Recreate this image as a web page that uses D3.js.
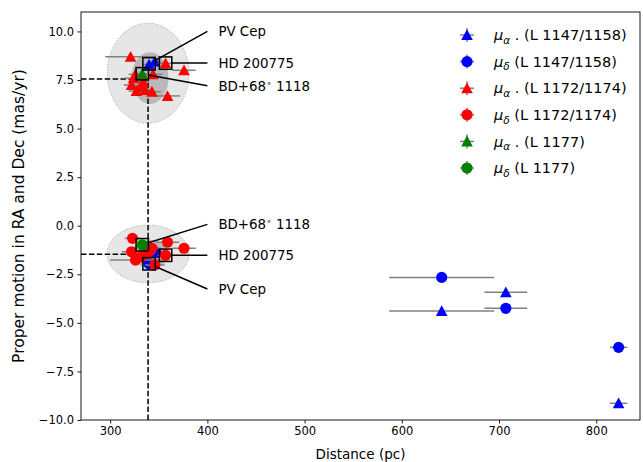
<!DOCTYPE html>
<html><head><meta charset="utf-8">
<script src="https://cdn.jsdelivr.net/npm/d3@7"></script>
<style>
body{margin:0;background:#fff;}
text{font-family:"DejaVu Sans",sans-serif;}
</style></head>
<body><svg id="c" width="643" height="462"></svg>
<script>
// ---- data ----
const xTicks = [300, 400, 500, 600, 700, 800];
const yTicks = [-10, -7.5, -5, -2.5, 0, 2.5, 5, 7.5, 10];

// L 1147/1158 (blue)
const blueDist   = [340, 346, 641, 707, 823];
const blueDistErr= [6, 6, 54, 22, 9];
const bluePmra   = [8.30, 8.45, -4.39, -3.43, -9.14];
const bluePmdecDist = [340, 347, 641, 707, 823];
const bluePmdec  = [-1.96, -1.39, -2.66, -4.25, -6.26];

// L 1172/1174 (red)
const redPmraDist = [321, 357, 376, 359, 324, 322, 331, 336, 343, 327, 334, 344, 326];
const redPmraErr  = [26, 8, 12, 13, 10, 8, 6, 7, 9, 8, 6, 10, 7];
const redPmra     = [8.70, 8.36, 8.00, 6.68, 7.59, 7.24, 7.15, 6.98, 6.90, 6.93, 7.41, 7.79, 7.79];
const redPmdecDist = [323, 359, 376, 357, 322, 326, 332, 343, 346, 339];
const redPmdecErr  = [8, 12, 12, 8, 10, 26, 8, 9, 10, 7];
const redPmdec     = [-0.65, -0.85, -1.16, -1.52, -1.34, -1.77, -1.60, -1.16, -2.02, -1.42];

// L 1177 (green)
const greenDist = [333];
const greenDistErr = [5];
const greenPmra = [7.82];
const greenPmdec = [-0.98];

// cluster mean (dashed lines)
const meanDist = 339;
const meanPmra = 7.55;
const meanPmdec = -1.47;

// ellipses: [cx, cy, rx, ry] in data units
const ellOuter = [[339, 7.85, 42, 2.57], [339, -1.45, 42, 1.48]];
const ellInner = [[341, 7.6, 19, 1.33], [341, -1.45, 19, 0.72]];

// highlighted stars and annotations
const starNames = ["PV Cep", "HD 200775", "BD+68$ 1118"];
const starDist  = [340, 357, 333];
const starPmra  = [8.33, 8.37, 7.82];
const starPmdec = [-1.96, -1.52, -0.98];
const annPmraText  = [10.0, 8.37, 7.2];
const annPmdecText = [-3.26, -1.52, 0.07];
const annTextDist = 400;

const legendLabels = ["(L 1147/1158)", "(L 1147/1158)", "(L 1172/1174)", "(L 1172/1174)", "(L 1177)", "(L 1177)"];
const legendSub = ["α", "δ", "α", "δ", "α", "δ"];
const legendColors = ["#0000ff", "#0000ff", "#ff0000", "#ff0000", "#008000", "#008000"];
const legendShapes = ["tri", "circ", "tri", "circ", "tri", "circ"];

// ---- drawing ----
const svg = d3.select("#c");
const L = 81, R = 640, T = 12, B = 420;
const x = d3.scaleLinear().domain([270, 845]).range([L, R]);
const y = d3.scaleLinear().domain([-10, 11]).range([B, T]);

const g = svg.append("g");
g.append("defs").append("clipPath").attr("id","clip").append("rect")
  .attr("x", L).attr("y", T).attr("width", R-L).attr("height", B-T);
const plot = g.append("g").attr("clip-path","url(#clip)");

// ellipses
plot.selectAll(".eo").data(ellOuter).enter().append("ellipse")
  .attr("cx", d=>x(d[0])).attr("cy", d=>y(d[1]))
  .attr("rx", d=>x(d[0]+d[2])-x(d[0])).attr("ry", d=>y(d[1]-d[3])-y(d[1]))
  .attr("fill","#e6e6e6").attr("stroke","#9a9a9a").attr("stroke-width",1)
  .attr("stroke-dasharray","1,1.6");
plot.selectAll(".ei").data(ellInner).enter().append("ellipse")
  .attr("cx", d=>x(d[0])).attr("cy", d=>y(d[1]))
  .attr("rx", d=>x(d[0]+d[2])-x(d[0])).attr("ry", d=>y(d[1]-d[3])-y(d[1]))
  .attr("fill","#b0b0b0").attr("fill-opacity",0.85);

// dashed mean lines
const dash = "5.5,2.4";
plot.append("line").attr("x1",x(270)).attr("x2",x(meanDist)).attr("y1",y(meanPmra)).attr("y2",y(meanPmra))
  .attr("stroke","#000").attr("stroke-width",1.5).attr("stroke-dasharray",dash);
plot.append("line").attr("x1",x(270)).attr("x2",x(meanDist)).attr("y1",y(meanPmdec)).attr("y2",y(meanPmdec))
  .attr("stroke","#000").attr("stroke-width",1.5).attr("stroke-dasharray",dash);
plot.append("line").attr("x1",x(meanDist)).attr("x2",x(meanDist)).attr("y1",y(-10)).attr("y2",y(meanPmra))
  .attr("stroke","#000").attr("stroke-width",1.5).attr("stroke-dasharray",dash);

const triPath = "M0,-5.8L5.8,5L-5.8,5Z";
function series(dist, vals, errs, color, shape){
  const pts = dist.map((d,i)=>({d, v: vals[i], e: errs[i]}));
  plot.selectAll(null).data(pts).enter().append("line")
    .attr("x1", p=>x(p.d-p.e)).attr("x2", p=>x(p.d+p.e))
    .attr("y1", p=>y(p.v)).attr("y2", p=>y(p.v))
    .attr("stroke","#808080").attr("stroke-width",1.5);
  if (shape === "tri") {
    plot.selectAll(null).data(pts).enter().append("path")
      .attr("d", triPath).attr("transform", p=>`translate(${x(p.d)},${y(p.v)})`)
      .attr("fill", color);
  } else {
    plot.selectAll(null).data(pts).enter().append("circle")
      .attr("cx", p=>x(p.d)).attr("cy", p=>y(p.v)).attr("r", 5.6)
      .attr("fill", color);
  }
}
series(blueDist, bluePmra, blueDistErr, "#0000ff", "tri");
series(bluePmdecDist, bluePmdec, blueDistErr, "#0000ff", "circ");
series(redPmraDist, redPmra, redPmraErr, "#ff0000", "tri");
series(redPmdecDist, redPmdec, redPmdecErr, "#ff0000", "circ");
series(greenDist, greenPmra, greenDistErr, "#008000", "tri");
series(greenDist, greenPmdec, greenDistErr, "#008000", "circ");

// boxes and annotations
const half = 6.2;
function annotate(vals, textVals){
  starNames.forEach((name,i)=>{
    const cx = x(starDist[i]), cy = y(vals[i]);
    const ex = x(annTextDist), ey = y(textVals[i]);
    const dx = ex-cx, dy = ey-cy;
    const t = Math.min(Math.abs(dx)>0 ? half/Math.abs(dx) : 1e9, Math.abs(dy)>0 ? half/Math.abs(dy) : 1e9);
    g.append("line").attr("x1", cx+t*dx).attr("y1", cy+t*dy).attr("x2", ex).attr("y2", ey)
      .attr("stroke","#000").attr("stroke-width",1.5);
    g.append("rect").attr("x", cx-half).attr("y", cy-half).attr("width", 2*half).attr("height", 2*half)
      .attr("fill","none").attr("stroke","#000").attr("stroke-width",1.5);
    const tx = g.append("text").attr("x", ex+11).attr("y", ey).attr("dy","0.36em")
      .attr("font-size", 13.4).attr("fill","#000");
    if (name.includes("$")) {
      const parts = name.split("$");
      tx.append("tspan").text(parts[0]);
      tx.append("tspan").attr("dy", -5).attr("font-size", 9).text("∘");
      tx.append("tspan").attr("dy", 5).text(parts[1]);
    } else tx.text(name);
  });
}
annotate(starPmra, annPmraText);
annotate(starPmdec, annPmdecText);

// axes
const xAxis = g.append("g").attr("transform",`translate(0,${B})`)
  .call(d3.axisBottom(x).tickValues(xTicks).tickSize(3.5).tickPadding(3.5).tickFormat(d3.format("d")));
const yAxis = g.append("g").attr("transform",`translate(${L},0)`)
  .call(d3.axisLeft(y).tickValues(yTicks).tickSize(3.5).tickPadding(3.5).tickFormat(d3.format(".1f")));
[xAxis, yAxis].forEach(a=>{
  a.select(".domain").remove();
  a.selectAll("text").attr("font-size", 11.5).attr("fill","#000").attr("font-family","DejaVu Sans");
  a.selectAll("line").attr("stroke","#000").attr("stroke-width",0.9);
});
g.append("rect").attr("x",L).attr("y",T).attr("width",R-L).attr("height",B-T)
  .attr("fill","none").attr("stroke","#000").attr("stroke-width",0.9);

g.append("text").attr("x",(L+R)/2).attr("y",459).attr("text-anchor","middle")
  .attr("font-size",13.5).attr("fill","#000").text("Distance (pc)");
g.append("text").attr("transform",`translate(24,${(T+B)/2}) rotate(-90)`).attr("text-anchor","middle")
  .attr("font-size",15.5).attr("fill","#000").text("Proper motion in RA and Dec (mas/yr)");

// legend
const lg = g.append("g");
legendLabels.forEach((lab,i)=>{
  const ly = 35 + i*26.6, lx = 467;
  lg.append("line").attr("x1",lx-7).attr("x2",lx+7).attr("y1",ly).attr("y2",ly).attr("stroke","#808080").attr("stroke-width",1.5);
  lg.append("line").attr("x1",lx).attr("x2",lx).attr("y1",ly-7).attr("y2",ly+7).attr("stroke","#808080").attr("stroke-width",1.5);
  if (legendShapes[i]==="tri") lg.append("path").attr("d",triPath).attr("transform",`translate(${lx},${ly})`).attr("fill",legendColors[i]);
  else lg.append("circle").attr("cx",lx).attr("cy",ly).attr("r",5.6).attr("fill",legendColors[i]);
  const t = lg.append("text").attr("x",494).attr("y",ly).attr("dy","0.36em").attr("font-size",14.5).attr("fill","#000");
  t.append("tspan").attr("font-style","italic").text("μ");
  t.append("tspan").attr("dy",3.5).attr("font-size",10.5).attr("font-style","italic").text(legendSub[i]);
  if (legendSub[i]==="α") {
    t.append("tspan").attr("dy",-3.5).text(" . " + lab);
  } else {
    t.append("tspan").attr("dy",-3.5).text(" " + lab);
  }
});
</script></body></html>
